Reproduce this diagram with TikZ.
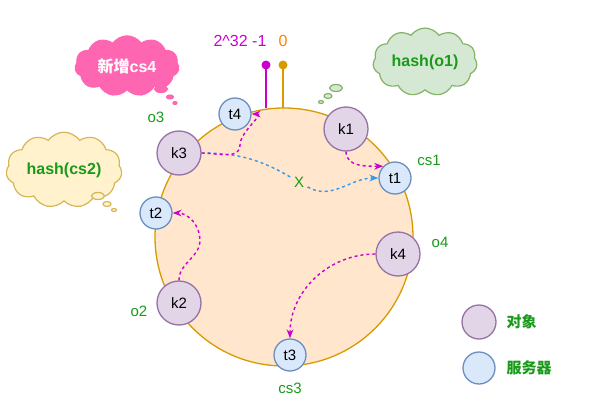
\documentclass[tikz,border=0pt]{standalone}
\usepackage{fontspec}
\setmainfont{Liberation Sans}
\newfontfamily\cjk{Noto Sans CJK SC}
\usetikzlibrary{shapes.symbols,shapes.geometric,arrows.meta}
\definecolor{ringfill}{HTML}{FFE6CC}
\definecolor{ringline}{HTML}{D79B00}
\definecolor{objfill}{HTML}{E1D5E7}
\definecolor{objline}{HTML}{9673A6}
\definecolor{srvfill}{HTML}{DAE8FC}
\definecolor{srvline}{HTML}{6C8EBF}
\definecolor{lblgreen}{HTML}{1A9A1A}
\definecolor{mag}{HTML}{CC00CC}
\definecolor{skyblue}{HTML}{3399EE}
\definecolor{pinkc}{HTML}{FF66B2}
\definecolor{greenline}{HTML}{82B366}
\definecolor{greenfill}{HTML}{D5E8D4}
\definecolor{yelline}{HTML}{D6B656}
\definecolor{yelfill}{HTML}{FFF2CC}
\tikzset{
  obj/.style={circle,draw=objline,fill=objfill,line width=1.3pt,minimum size=44pt,inner sep=0pt,font=\fontsize{15}{17}\selectfont},
  srv/.style={circle,draw=srvline,fill=srvfill,line width=1.3pt,minimum size=32pt,inner sep=0pt,font=\fontsize{15}{17}\selectfont},
  lbl/.style={text=lblgreen,font=\fontsize{15}{17}\selectfont},
  thought/.style 2 args={cloud,cloud puffs=11,cloud puff arc=110,aspect=1.8,draw=#1,fill=#2,line width=1.2pt,inner sep=2pt,font=\bfseries\fontsize{16}{18}\selectfont},
  bub/.style 2 args={ellipse,draw=#1,fill=#2,line width=1.2pt,inner sep=0pt},
  magarrow/.style={mag,line width=1.4pt,dashed,-{Stealth[length=9pt]}},
  bluearrow/.style={skyblue,line width=1.4pt,dash pattern=on 3pt off 3pt,-{Stealth[length=9pt]}}
}
\begin{document}
\begin{tikzpicture}[x=1pt,y=-1pt]
  \useasboundingbox (0,0) rectangle (602,404);
  % ring
  \node[circle,draw=ringline,fill=ringfill,line width=1.3pt,minimum size=258pt,inner sep=0pt] (ring) at (284,237) {};
  \coordinate (p1) at (266,108);
  \coordinate (p0) at (283,108);
  \draw[mag,line width=1.3pt] (p1) -- (266,65) coordinate (d1);
  \draw[ringline,line width=1.3pt] (p0) -- (283,65) coordinate (d0);
  \fill[mag] (d1) circle (4.5pt);
  \fill[ringline] (d0) circle (4.5pt);
  \node[text=mag,font=\fontsize{16}{18}\selectfont] (top1) at (240,41) {2\^{}32 -1};
  \node[text=orange,font=\fontsize{16}{18}\selectfont] (top0) at (283,41) {0};
  % objects and servers
  \node[obj] (k1) at (346,129) {k1};
  \node[obj] (k3) at (179,153) {k3};
  \node[obj] (k4) at (398,254) {k4};
  \node[obj] (k2) at (179,303) {k2};
  \node[srv] (t4) at (235,114) {t4};
  \node[srv] (t1) at (395,178) {t1};
  \node[srv] (t2) at (156,213) {t2};
  \node[srv] (t3) at (290,355) {t3};
  \node[lbl] (o3) at (156,117) {o3};
  \node[lbl] (cs1) at (429,160) {cs1};
  \node[lbl] (o4) at (440,242) {o4};
  \node[lbl] (o2) at (139,311) {o2};
  \node[lbl] (cs3) at (290,388) {cs3};
  \node[lbl] (x) at (299,182) {X};
  % connectors
  \draw[bluearrow] (k3.east) to[out=0,in=150] (x) to[out=-30,in=180] (t1.west);
  \draw[magarrow] (k3.east) to[out=0,in=-90] (240,145) to[out=90,in=0] (t4.east);
  \draw[magarrow] (k1.south) to[out=-90,in=180] (t1.north west);
  \draw[magarrow] (k2.north) to[out=90,in=-90] (200,240) to[out=90,in=0] (t2.east);
  \draw[magarrow] (k4.west) to[out=180,in=90] (t3.north);
  % thoughts
  \node[thought={pinkc}{pinkc},text=white,minimum width=104pt,minimum height=60pt] (new) at (127,66) {{\cjk 新增}cs4};
  \node[bub={pinkc}{pinkc},minimum width=13pt,minimum height=7pt] (n1) at (161,89) {};
  \node[bub={pinkc}{pinkc},minimum width=7pt,minimum height=4pt] (n2) at (170,97) {};
  \node[bub={pinkc}{pinkc},minimum width=4pt,minimum height=3pt] (n3) at (175,103) {};
  \node[thought={greenline}{greenfill},text=lblgreen,minimum width=104pt,minimum height=60pt] (h1) at (425,62) {hash(o1)};
  \node[bub={greenline}{greenfill},minimum width=13pt,minimum height=7pt] (g1) at (336,88) {};
  \node[bub={greenline}{greenfill},minimum width=8pt,minimum height=5pt] (g2) at (328,96) {};
  \node[bub={greenline}{greenfill},minimum width=5pt,minimum height=3pt] (g3) at (321,102) {};
  \node[thought={yelline}{yelfill},text=lblgreen,minimum width=108pt,minimum height=62pt] (h2) at (64,170) {hash(cs2)};
  \node[bub={yelline}{yelfill},minimum width=13pt,minimum height=7pt] (y1) at (98,196) {};
  \node[bub={yelline}{yelfill},minimum width=8pt,minimum height=5pt] (y2) at (107,204) {};
  \node[bub={yelline}{yelfill},minimum width=5pt,minimum height=3pt] (y3) at (114,210) {};
  % legend
  \node[obj,minimum size=34pt] (lo) at (479,322) {};
  \node[srv] (ls) at (479,368) {};
  \node[lbl,font=\bfseries\fontsize{15}{17}\selectfont\cjk,anchor=west] (lot) at (503,322) {对象};
  \node[lbl,font=\bfseries\fontsize{15}{17}\selectfont\cjk,anchor=west] (lst) at (503,368) {服务器};
\end{tikzpicture}
\end{document}
